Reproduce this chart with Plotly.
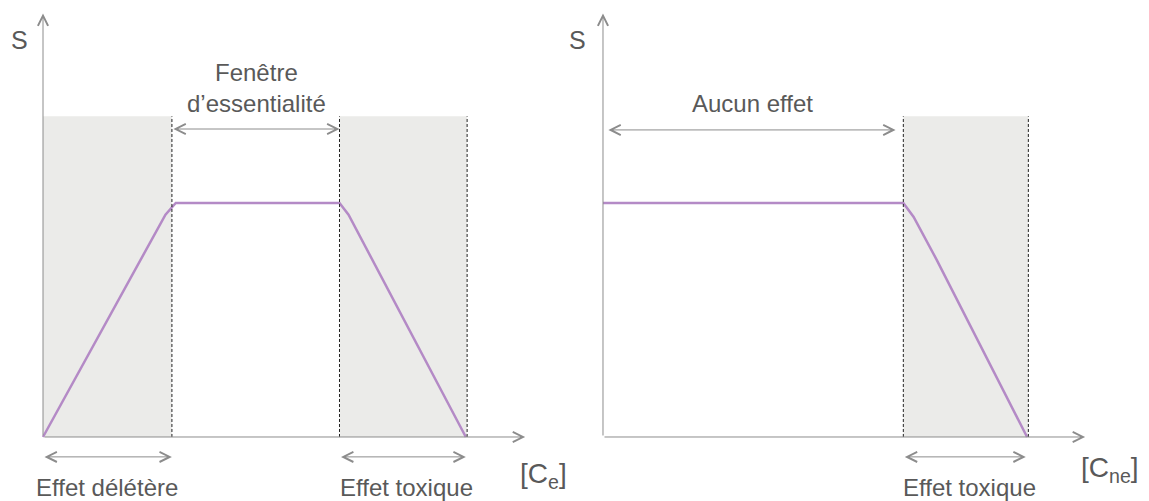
import plotly.graph_objects as go
from plotly.subplots import make_subplots

# left panel: essential element, right panel: non-essential element
ess_conc = [0, 0.95, 1.03, 2.30, 2.37, 3.28]
ess_s = [0, 0.95, 1, 1, 0.95, 0]
ess_zones = [(0, 1.0), (2.30, 3.29)]
ess_bounds = [1.0, 2.30, 3.29]

ne_conc = [0, 2.33, 2.41, 2.59, 3.29]
ne_s = [1, 1, 0.94, 0.756, 0]
ne_zones = [(2.33, 3.30)]
ne_bounds = [2.33, 3.30]

zone_top = 1.37
axis_x_end = 3.74
axis_y_end = 1.81

GREY = "#8c8c8c"
TEXT = "#595959"
PURPLE = "#b48ac6"
FONT = "Liberation Sans Narrow, Liberation Sans, Arial Narrow, sans-serif"

fig = make_subplots(rows=1, cols=2)

fig.add_trace(go.Scatter(x=ess_conc, y=ess_s, mode="lines",
                         line=dict(color=PURPLE, width=2.5)),
              row=1, col=1)
fig.add_trace(go.Scatter(x=ne_conc, y=ne_s, mode="lines",
                         line=dict(color=PURPLE, width=2.5)),
              row=1, col=2)

for xr, yr, zones, bounds in [("x", "y", ess_zones, ess_bounds), ("x2", "y2", ne_zones, ne_bounds)]:
    for a, b in zones:
        fig.add_shape(type="rect", xref=xr, yref=yr, x0=a, x1=b, y0=0, y1=zone_top,
                      fillcolor="#ebebe9", line_width=0, layer="below")
    for b in bounds:
        fig.add_shape(type="line", xref=xr, yref=yr, x0=b, x1=b, y0=0, y1=zone_top,
                      line=dict(color="#222222", width=1, dash="3px,2px"))


def arrow(xr, yr, x0, y0, x1, y1, both=False):
    fig.add_annotation(xref=xr, yref=yr, axref=xr, ayref=yr, x=x1, y=y1, ax=x0, ay=y0,
                       text="", showarrow=True, arrowhead=5, startarrowhead=5,
                       arrowsize=2, startarrowsize=2, arrowwidth=1, arrowcolor=GREY,
                       arrowside="end+start" if both else "end", standoff=0, startstandoff=0)


def label(xr, yr, x, y, txt, size=24):
    fig.add_annotation(xref=xr, yref=yr, x=x, y=y, text=txt, showarrow=False,
                       xanchor="center", yanchor="middle",
                       font=dict(family=FONT, size=size, color=TEXT))


for xr, yr in [("x", "y"), ("x2", "y2")]:
    arrow(xr, yr, 0, 0, 0, axis_y_end)
    arrow(xr, yr, 0, 0, axis_x_end, 0)

# S labels sit left of the axis domain, so place them in paper units
label("paper", "paper", 0.0097, 0.935, "S", 25)
label("paper", "paper", 0.4987, 0.935, "S", 25)

# left panel labels
arrow("x", "y", 1.0, 1.316, 2.30, 1.316, both=True)
label("x", "y", 1.66, 1.49, "Fenêtre<br>d’essentialité")
arrow("x", "y", 0, -0.085, 1.0, -0.085, both=True)
label("x", "y", 0.50, -0.215, "Effet délétère")
arrow("x", "y", 2.30, -0.085, 3.28, -0.085, both=True)
label("x", "y", 2.82, -0.215, "Effet toxique")
label("x", "y", 3.88, -0.165, "[C<sub>e</sub>]", 28)

# right panel labels
arrow("x2", "y2", 0.03, 1.312, 2.27, 1.312, both=True)
label("x2", "y2", 1.16, 1.427, "Aucun effet")
arrow("x2", "y2", 2.33, -0.085, 3.28, -0.085, both=True)
label("x2", "y2", 2.84, -0.215, "Effet toxique")
label("x2", "y2", 3.93, -0.14, "[C<sub>ne</sub>]", 28)

# page body adds an 8px margin, so the figure is 8px smaller than the window
fig.update_layout(
    width=1141, height=493, margin=dict(l=0, r=0, t=0, b=0),
    paper_bgcolor="white", plot_bgcolor="white", showlegend=False,
    xaxis=dict(domain=[0, 0.5], range=[-0.2715, 4.154], visible=False),
    yaxis=dict(domain=[0, 1], range=[-0.2735, 1.833], visible=False),
    xaxis2=dict(domain=[0.5, 1], range=[-0.190, 4.236], visible=False),
    yaxis2=dict(domain=[0, 1], range=[-0.2735, 1.833], visible=False),
)

fig.write_html("out.html")
